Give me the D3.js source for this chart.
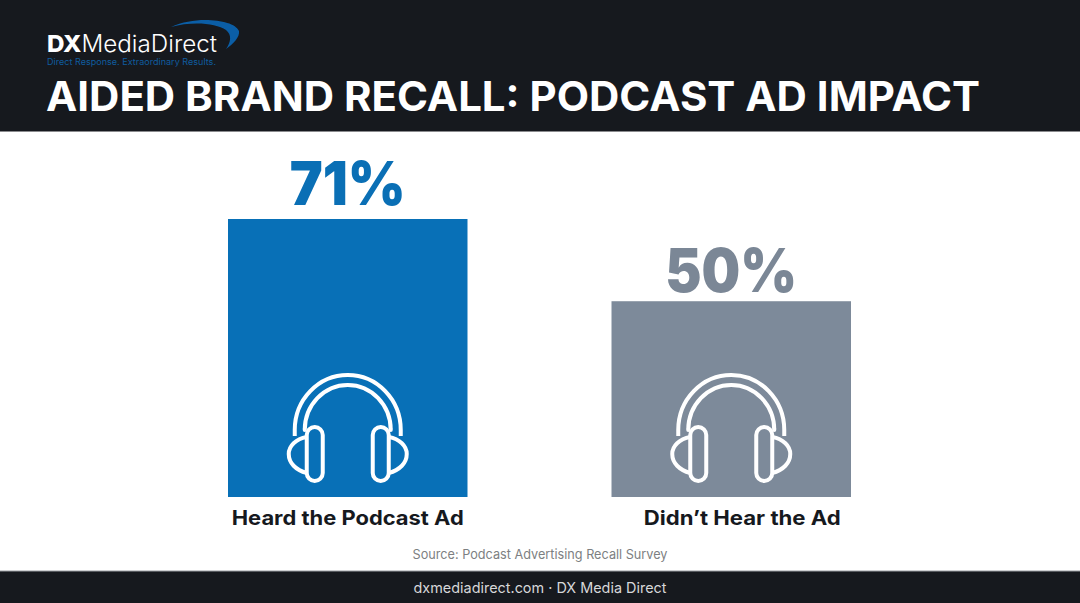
<!DOCTYPE html>
<html>
<head>
<meta charset="utf-8">
<script src="https://cdn.jsdelivr.net/npm/d3@7"></script>
<style>
html, body { margin: 0; padding: 0; background: #fff; }
svg { display: block; }
text { font-family: Inter, "Open Sans", sans-serif; }
</style>
</head>
<body>
<svg id="chart" width="1080" height="603"></svg>
<script>
var categories = ["Heard the Podcast Ad", "Didn\u2019t Hear the Ad"];
var recall_values = [71, 50];
var bar_colors = ["#0870b7", "#7d8a9a"];
var value_colors = ["#0a6fb5", "#7b8796"];
// labels are not quite centred under the bars in the original
var label_offsets = [0, 11];
var label_widths = [232, 197];
var value_widths = [116, 132];
var value_gaps = [14, 9];

var title_text = "AIDED BRAND RECALL: PODCAST AD IMPACT";
var source_text = "Source: Podcast Advertising Recall Survey";
var footer_text = "dxmediadirect.com \u00b7 DX Media Direct";
var dark = "#16191e";

var svg = d3.select("#chart");

var x = d3.scaleBand()
    .domain(categories)
    .range([228, 851])
    .paddingInner(0.3755)
    .paddingOuter(0);
var y = d3.scaleLinear()
    .domain([0, 71])
    .range([497, 219]);

// header + footer bands
svg.append("rect").attr("width", 1080).attr("height", 131.5).attr("fill", dark);
svg.append("rect").attr("y", 571).attr("width", 1080).attr("height", 32).attr("fill", dark);
svg.append("rect").attr("y", 570.5).attr("width", 1080).attr("height", 1).attr("fill", "#9a9da1");

// logo
svg.append("path")
    .attr("d", "M171,27 C182,22 194,20 205,20 C222,20 236,24 239,31 C240,37 233,44 226,49 C231,42 232,35 226,30 C216,23 192,21 171,27 Z")
    .attr("fill", "#0b5ea6");
var logo = svg.append("text")
    .attr("x", 47)
    .attr("y", 52)
    .attr("font-size", 23.5)
    .attr("fill", "#fff")
    .attr("textLength", 170)
    .attr("lengthAdjust", "spacingAndGlyphs");
logo.append("tspan").attr("font-weight", 800).text("DX");
logo.append("tspan").attr("font-weight", 300).text("MediaDirect");
svg.append("text")
    .attr("x", 47)
    .attr("y", 65)
    .attr("font-size", 8.6)
    .attr("fill", "#0f5c9e")
    .attr("textLength", 169)
    .attr("lengthAdjust", "spacingAndGlyphs")
    .text("Direct Response. Extraordinary Results.");

// title
svg.append("text")
    .attr("x", 46)
    .attr("y", 111)
    .attr("font-size", 41)
    .attr("font-weight", 700)
    .attr("fill", "#fff")
    .attr("textLength", 934)
    .attr("lengthAdjust", "spacingAndGlyphs")
    .text(title_text);

// bars
svg.selectAll(".bar")
    .data(categories)
    .enter()
    .append("rect")
    .attr("class", "bar")
    .attr("x", d => x(d))
    .attr("y", (d, i) => y(recall_values[i]))
    .attr("width", x.bandwidth())
    .attr("height", (d, i) => y(0) - y(recall_values[i]))
    .attr("fill", (d, i) => bar_colors[i]);

// value labels
svg.selectAll(".value")
    .data(categories)
    .enter()
    .append("text")
    .attr("class", "value")
    .attr("x", d => x(d) + x.bandwidth() / 2)
    .attr("y", (d, i) => y(recall_values[i]) - value_gaps[i])
    .attr("text-anchor", "middle")
    .attr("font-size", 60)
    .attr("font-weight", 900)
    .attr("fill", (d, i) => value_colors[i])
    .attr("textLength", (d, i) => value_widths[i])
    .attr("lengthAdjust", "spacingAndGlyphs")
    .text((d, i) => recall_values[i] + "%");

// category labels
svg.selectAll(".cat")
    .data(categories)
    .enter()
    .append("text")
    .attr("class", "cat")
    .attr("x", (d, i) => x(d) + x.bandwidth() / 2 + label_offsets[i])
    .attr("y", 525)
    .attr("text-anchor", "middle")
    .attr("font-size", 20)
    .attr("font-weight", 700)
    .attr("fill", "#16191e")
    .attr("textLength", (d, i) => label_widths[i])
    .attr("lengthAdjust", "spacingAndGlyphs")
    .text(d => d);

// headphones, drawn around the bar centre
var phones = svg.selectAll(".phones")
    .data(categories)
    .enter()
    .append("g")
    .attr("class", "phones")
    .attr("transform", d => "translate(" + (x(d) + x.bandwidth() / 2) + ",0)")
    .attr("fill", "none")
    .attr("stroke", "#fff")
    .attr("stroke-width", 4)
    .attr("stroke-linejoin", "round");
phones.append("path")
    .attr("d", "M-53,436 L-53,430 A53,55 0 0 1 53,430 L53,436");
phones.append("path")
    .attr("d", "M-43,428 L-43,430 A43,45 0 0 1 43,430 L43,428");
[-1, 1].forEach(function(side) {
    phones.append("rect")
        .attr("x", side < 0 ? -41 : 25)
        .attr("y", 427)
        .attr("width", 16)
        .attr("height", 54)
        .attr("rx", 8);
    phones.append("path")
        .attr("d", "M" + side * 41 + ",437 C" + side * 52 + ",439 " + side * 59 + ",446 " + side * 59 + ",454 C" + side * 59 + ",463 " + side * 52 + ",470 " + side * 41 + ",473");
});

// source + footer
svg.append("text")
    .attr("x", 540)
    .attr("y", 559)
    .attr("text-anchor", "middle")
    .attr("font-size", 13)
    .attr("fill", "#7d7f82")
    .attr("textLength", 255)
    .attr("lengthAdjust", "spacingAndGlyphs")
    .text(source_text);
svg.append("text")
    .attr("x", 540)
    .attr("y", 593)
    .attr("text-anchor", "middle")
    .attr("font-size", 14.5)
    .attr("fill", "#d6d7d9")
    .attr("textLength", 253)
    .attr("lengthAdjust", "spacingAndGlyphs")
    .text(footer_text);
</script>
</body>
</html>
